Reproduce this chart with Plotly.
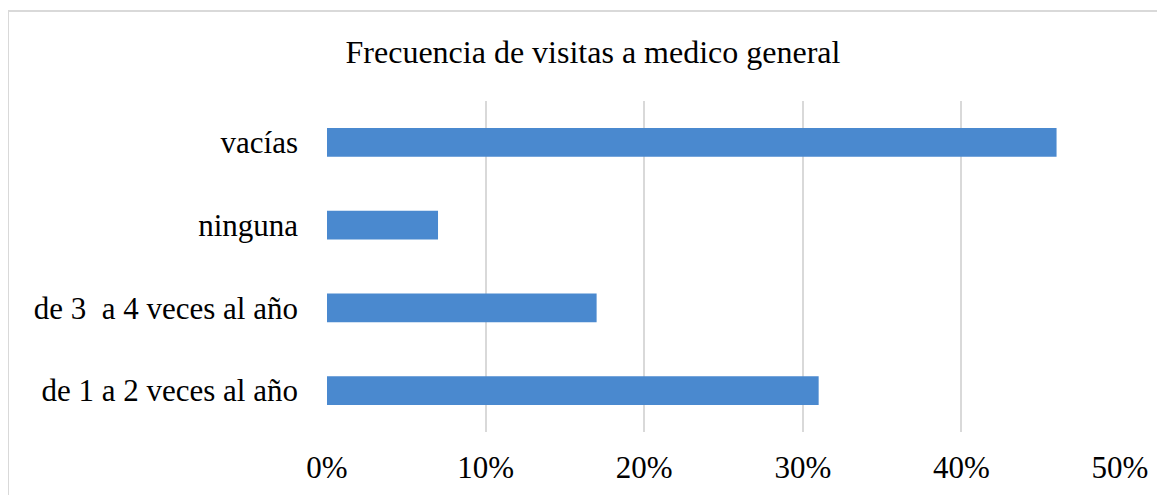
import plotly.graph_objects as go

categories = ["de 1 a 2 veces al año", "de 3  a 4 veces al año", "ninguna", "vacías"]
values = [0.31, 0.17, 0.07, 0.46]
tick_vals = [0, 0.1, 0.2, 0.3, 0.4, 0.5]
tick_text = ["0%", "10%", "20%", "30%", "40%", "50%"]
title_text = "Frecuencia de visitas a medico general"

# page body has an 8px default margin; compensate
OFF = 8
W, H = 1165, 495
pw, ph = 793, 331
L = 327 - OFF
T = 101 - OFF
R = W - L - pw
B = H - T - ph

def px_x(p):
    return (p - OFF - L) / pw

def px_y(p):
    return (T + ph - (p - OFF)) / ph

font_family = "Liberation Serif, Times New Roman, serif"

fig = go.Figure(go.Bar(
    y=categories,
    x=values,
    orientation="h",
    marker=dict(color="#4a89cf", line=dict(width=0)),
    width=0.35,
    hoverinfo="skip",
))

fig.update_layout(
    width=W, height=H,
    margin=dict(l=L, r=R, t=T, b=B),
    paper_bgcolor="white",
    plot_bgcolor="white",
    showlegend=False,
    font=dict(family=font_family, size=31, color="#000000"),
    title=dict(text=title_text, xref="container", x=(593 - OFF) / W, xanchor="center",
               y=1 - (52 - OFF) / H, yanchor="middle",
               font=dict(family=font_family, size=32, color="#000000")),
    xaxis=dict(range=[0, 0.5], tickvals=tick_vals, ticktext=tick_text,
               showgrid=True, gridcolor="#d9d9d9", gridwidth=1.5,
               zeroline=False, showline=False, ticks="",
               ticklabelstandoff=14, fixedrange=True),
    yaxis=dict(showgrid=False, zeroline=False, showline=False, ticks="",
               ticklabelstandoff=28, range=[-0.5, 3.5], fixedrange=True),
    shapes=[dict(type="rect", xref="paper", yref="paper",
                 x0=px_x(8), x1=px_x(1185), y0=px_y(515), y1=px_y(11),
                 line=dict(color="#d9d9d9", width=2), fillcolor="rgba(0,0,0,0)",
                 layer="below")],
)

fig.write_html("out.html")
